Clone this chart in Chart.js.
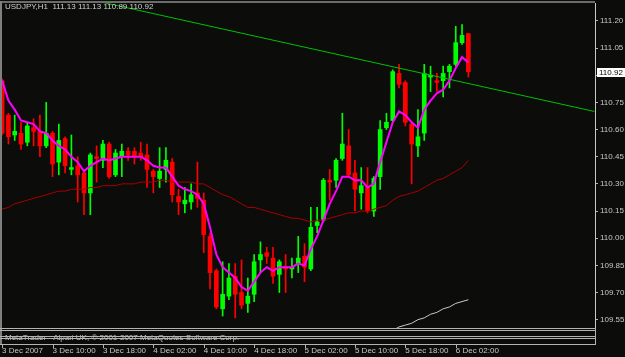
<!DOCTYPE html>
<html>
<head>
<meta charset="utf-8">
<title>USDJPY,H1</title>
<script src="https://cdn.jsdelivr.net/npm/chart.js@4.4.0/dist/chart.umd.min.js"></script>
<style>
  html, body { margin: 0; padding: 0; background: #0c0d0b; }
  canvas { display: block; }
</style>
</head>
<body>
<canvas id="chart" width="625" height="357"></canvas>
<script>
// USDJPY H1, first bar 3 Dec 2007 02:00
const symbol = 'USDJPY,H1';
const copyright = 'MetaTrader - Alpari UK, \u00a9 2001-2007 MetaQuotes Software Corp.';

const opens = [
  110.87, 110.68, 110.57, 110.58, 110.53, 110.61, 110.59, 110.51, 110.58, 110.42,
  110.55, 110.38, 110.40, 110.36, 110.25, 110.45, 110.43, 110.52, 110.35, 110.45,
  110.48, 110.48, 110.47, 110.46, 110.37, 110.33, 110.38, 110.42, 110.23, 110.19,
  110.20, 110.25, 110.21, 110.01, 109.82, 109.61, 109.68, 109.79, 109.70, 109.64,
  109.69, 109.88, 109.92, 109.89, 109.80, 109.84, 109.83, 109.86, 109.90, 109.83,
  110.07, 110.10, 110.32, 110.32, 110.44, 110.51, 110.36, 110.25, 110.28, 110.15,
  110.34, 110.61, 110.65, 110.91, 110.86, 110.63, 110.51, 110.58, 110.89, 110.87,
  110.87, 110.92, 110.96, 111.08, 111.13
];
const highs = [
  110.88, 110.69, 110.68, 110.64, 110.64, 110.66, 110.68, 110.75, 110.59, 110.63,
  110.56, 110.57, 110.45, 110.38, 110.47, 110.51, 110.54, 110.53, 110.49, 110.52,
  110.50, 110.50, 110.53, 110.52, 110.38, 110.50, 110.50, 110.44, 110.27, 110.28,
  110.30, 110.42, 110.25, 110.03, 109.83, 109.87, 109.86, 109.86, 109.88, 109.78,
  109.91, 109.98, 109.95, 109.95, 109.88, 109.91, 109.89, 110.01, 109.97, 110.17,
  110.17, 110.33, 110.38, 110.44, 110.69, 110.60, 110.43, 110.39, 110.39, 110.34,
  110.65, 110.69, 110.93, 110.96, 110.87, 110.64, 110.71, 110.96, 110.95, 110.91,
  110.95, 110.96, 111.17, 111.18, 111.13
];
const lows = [
  110.57, 110.52, 110.54, 110.49, 110.51, 110.51, 110.45, 110.50, 110.34, 110.35,
  110.36, 110.35, 110.20, 110.13, 110.13, 110.31, 110.39, 110.33, 110.34, 110.34,
  110.43, 110.41, 110.43, 110.28, 110.25, 110.28, 110.31, 110.20, 110.13, 110.14,
  110.16, 110.17, 109.92, 109.72, 109.61, 109.57, 109.66, 109.56, 109.61, 109.59,
  109.65, 109.81, 109.86, 109.75, 109.70, 109.70, 109.78, 109.81, 109.76, 109.82,
  110.03, 110.09, 110.21, 110.28, 110.43, 110.34, 110.15, 110.16, 110.14, 110.12,
  110.27, 110.60, 110.64, 110.83, 110.62, 110.30, 110.45, 110.54, 110.81, 110.81,
  110.78, 110.83, 110.95, 111.07, 110.89
];
const closes = [
  110.58, 110.56, 110.59, 110.52, 110.62, 110.59, 110.51, 110.58, 110.41, 110.54,
  110.40, 110.39, 110.35, 110.25, 110.46, 110.44, 110.52, 110.34, 110.47, 110.48,
  110.46, 110.45, 110.45, 110.38, 110.34, 110.37, 110.43, 110.24, 110.20, 110.21,
  110.24, 110.22, 110.02, 109.81, 109.62, 109.69, 109.78, 109.69, 109.63, 109.68,
  109.87, 109.91, 109.90, 109.79, 109.87, 109.83, 109.84, 109.89, 109.84, 110.06,
  110.09, 110.32, 110.31, 110.43, 110.52, 110.35, 110.27, 110.29, 110.15, 110.33,
  110.60, 110.64, 110.92, 110.85, 110.64, 110.52, 110.56, 110.91, 110.90, 110.86,
  110.91, 110.95, 111.08, 111.12, 110.92
];

// moving averages
const maFast = [
  110.87, 110.76, 110.71, 110.65, 110.64, 110.63, 110.59, 110.58, 110.54, 110.51,
  110.49, 110.45, 110.42, 110.37, 110.40, 110.42, 110.44, 110.43, 110.44, 110.45,
  110.45, 110.45, 110.45, 110.43, 110.40, 110.39, 110.39, 110.34, 110.29, 110.27,
  110.26, 110.24, 110.19, 110.06, 109.91, 109.84, 109.81, 109.78, 109.73, 109.71,
  109.76, 109.81, 109.84, 109.82, 109.84, 109.84, 109.84, 109.86, 109.85, 109.94,
  110.01, 110.10, 110.19, 110.26, 110.34, 110.34, 110.32, 110.32, 110.28, 110.30,
  110.42, 110.53, 110.64, 110.70, 110.68, 110.64, 110.61, 110.71, 110.76, 110.80,
  110.82, 110.87, 110.94, 111.00, 110.97
];
const maSlow = [
  110.16, 110.17, 110.19, 110.20, 110.21, 110.22, 110.23, 110.24, 110.25, 110.26,
  110.26, 110.27, 110.27, 110.27, 110.28, 110.28, 110.29, 110.29, 110.29, 110.30,
  110.30, 110.30, 110.31, 110.31, 110.31, 110.32, 110.32, 110.31, 110.31, 110.31,
  110.31, 110.30, 110.30, 110.28, 110.26, 110.24, 110.23, 110.21, 110.19, 110.17,
  110.17, 110.16, 110.15, 110.14, 110.13, 110.12, 110.11, 110.11, 110.10, 110.09,
  110.10, 110.10, 110.11, 110.12, 110.13, 110.14, 110.14, 110.15, 110.15, 110.16,
  110.17, 110.18, 110.21, 110.23, 110.24, 110.25, 110.26, 110.28, 110.30, 110.32,
  110.33, 110.35, 110.37, 110.39, 110.43
];
// only the tail of the long average shows above the bottom edge
const maLong = Array(61).fill(null).concat([
  109.48, 109.49, 109.51, 109.52, 109.53, 109.55, 109.56, 109.58, 109.59, 109.61,
  109.62, 109.64, 109.65, 109.66
]);

// trend line anchors (bar index, price)
const trendX = [15, 94];
const trendY = [111.31, 110.70];

const yTicks = [109.55, 109.70, 109.85, 110.00, 110.15, 110.30, 110.45, 110.60, 110.75, 110.90, 111.05, 111.20];
const xTickIdx = [0, 8, 16, 24, 32, 40, 48, 56, 64, 72];
const xTickLabels = ['3 Dec 2007', '3 Dec 10:00', '3 Dec 18:00', '4 Dec 02:00', '4 Dec 10:00',
  '4 Dec 18:00', '5 Dec 02:00', '5 Dec 10:00', '5 Dec 18:00', '6 Dec 02:00'];

const last = closes.length - 1;
const title = symbol + '  ' + [opens[last], highs[last], lows[last], closes[last]].map(v => v.toFixed(2)).join(' ');
const candleColor = closes.map((c, i) => c >= opens[i] ? '#00ff00' : '#ff0000');
const pts = arr => arr.map((v, i) => ({ x: i, y: v }));
const FONT = '8px "Liberation Sans"';

const mtFrame = {
  id: 'mtFrame',
  beforeDraw(chart) {
    const ctx = chart.ctx;
    ctx.save();
    ctx.fillStyle = '#0c0d0b';
    ctx.fillRect(0, 0, chart.width, chart.height);
    // window border, under the bars
    ctx.fillStyle = '#6c6c6c';
    ctx.fillRect(0, 1, chart.chartArea.right, 2);
    ctx.fillStyle = '#808080';
    ctx.fillRect(0, 1, 2, chart.chartArea.bottom + 16);
    ctx.restore();
  },
  afterDraw(chart) {
    const { ctx, chartArea: a, scales: { x, y } } = chart;
    ctx.save();
    // symbol line
    ctx.font = FONT;
    ctx.fillStyle = '#d0d0d0';
    ctx.textAlign = 'left';
    ctx.textBaseline = 'top';
    ctx.fillText(title, 5, 3);

    // copyright, then the empty indicator panes over it
    ctx.textBaseline = 'alphabetic';
    ctx.fillStyle = '#c0c0c0';
    ctx.fillText(copyright, 5, a.bottom + 12);
    ctx.strokeStyle = '#b4b4b4';
    ctx.lineWidth = 1;
    ctx.beginPath();
    [0.5, 2.5, 8.5, 10.5, 16.5].forEach(d => {
      ctx.moveTo(0, a.bottom + d);
      ctx.lineTo(a.right + 1, a.bottom + d);
    });
    ctx.moveTo(a.right + 0.5, a.bottom);
    ctx.lineTo(a.right + 0.5, a.bottom + 17);
    // time ticks below panes
    xTickIdx.forEach(v => {
      const px = Math.round(x.getPixelForValue(v)) + 0.5;
      ctx.moveTo(px, a.bottom + 16);
      ctx.lineTo(px, a.bottom + 20);
    });
    ctx.stroke();

    // current price label
    const py = Math.round(y.getPixelForValue(closes[last]));
    ctx.fillStyle = '#ffffff';
    ctx.fillRect(a.right + 2, py - 4, 28, 9);
    ctx.fillStyle = '#000000';
    ctx.textBaseline = 'middle';
    ctx.fillText(closes[last].toFixed(2), a.right + 4, py + 0.5);
    ctx.restore();
  }
};

new Chart(document.getElementById('chart'), {
  type: 'bar',
  data: {
    datasets: [
      {
        type: 'line', label: 'trend', order: 0,
        data: trendX.map((v, k) => ({ x: v, y: trendY[k] })),
        borderColor: '#00c000', borderWidth: 1, pointRadius: 0,
      },
      {
        type: 'line', label: 'MA fast', order: 1, data: pts(maFast),
        borderColor: '#ff00ff', borderWidth: 2, pointRadius: 0,
      },
      {
        type: 'line', label: 'MA slow', order: 2, data: pts(maSlow),
        borderColor: '#a80000', borderWidth: 1, pointRadius: 0,
      },
      {
        type: 'line', label: 'MA long', order: 3, data: pts(maLong),
        borderColor: '#c8c8c8', borderWidth: 1, pointRadius: 0,
      },
      {
        label: 'body', order: 4, grouped: false,
        data: opens.map((o, i) => ({ x: i, y: [o, closes[i]] })),
        backgroundColor: candleColor, barThickness: 4, maxBarThickness: 4, minBarLength: 1,
      },
      {
        label: 'wick', order: 5, grouped: false,
        data: lows.map((l, i) => ({ x: i, y: [l, highs[i]] })),
        backgroundColor: candleColor, barThickness: 1, maxBarThickness: 1,
      },
    ],
  },
  options: {
    responsive: false,
    animation: false,
    devicePixelRatio: 1,
    layout: { padding: { left: 2, top: 3, right: 0, bottom: 0 } },
    plugins: { legend: { display: false }, tooltip: { enabled: false } },
    scales: {
      x: {
        type: 'linear', min: -0.016, max: 94.1, offset: false,
        grid: { display: false, drawTicks: true, tickLength: 16 },
        border: { display: false },
        ticks: {
          autoSkip: false, maxRotation: 0, minRotation: 0, align: 'start', padding: 2,
          color: '#c8c8c8', font: { family: 'Liberation Sans', size: 8 },
          callback: (v, k) => xTickLabels[k],
        },
        afterBuildTicks: s => { s.ticks = xTickIdx.map(v => ({ value: v })); },
        afterFit: s => { s.height = 29; s.paddingLeft = 0; s.paddingRight = 0; },
      },
      y: {
        position: 'right', min: 109.504, max: 111.299,
        grid: { display: true, drawOnChartArea: false, drawTicks: true, tickLength: 3, color: '#b4b4b4' },
        border: { display: true, color: '#c8c8c8' },
        ticks: {
          padding: 2, color: '#c8c8c8', font: { family: 'Liberation Sans', size: 8 },
          callback: v => v.toFixed(2),
        },
        afterBuildTicks: s => { s.ticks = yTicks.map(v => ({ value: v })); },
        afterFit: s => { s.width = 30; s.paddingTop = 0; s.paddingBottom = 0; },
      },
    },
  },
  plugins: [mtFrame],
});
</script>
</body>
</html>
